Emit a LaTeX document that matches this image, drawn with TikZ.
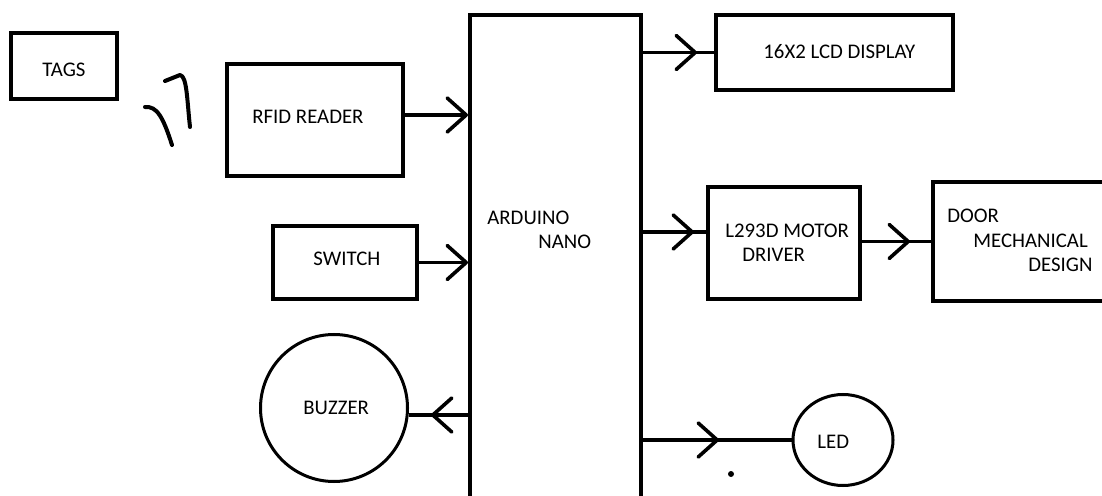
\documentclass[tikz,border=0pt]{standalone}
\usepackage{fontspec}
\setmainfont{Carlito}
\usetikzlibrary{arrows.meta, decorations.markings, fit, shapes.geometric}
\tikzset{
	barb/.tip = {Straight Barb[length=9.5pt, width=17pt, round]},
	block/.style = {draw=black, line width=2pt, inner sep=0pt, rectangle},
	roundunit/.style = {draw=black, line width=1.5pt, inner sep=0pt},
	boxtext/.style = {anchor=west, inner sep=0pt, font=\fontsize{10.4}{12}\selectfont, text=black},
	wire/.style = {draw=black, line width=1.8pt},
	feed/.style = {postaction={decorate}, decoration={markings, mark=at position #1 with {\arrow{barb}}}},
	scrawl/.style = {draw=black, line width=2pt, line cap=round, line join=round},
}

\begin{document}
\begin{tikzpicture}[x=0.5pt, y=-0.5pt]
	\useasboundingbox (0,0) rectangle (1102,496);
	\clip (0,0) rectangle (1102,496);

	% blocks
	\node[block, fit={(11,33) (117,99)}] (tags) {};
	\node[block, fit={(227,64) (403,176)}] (rfid) {};
	\node[block, fit={(273,226) (417,299)}] (switch) {};
	\node[block, fit={(470,15) (641,530)}] (nano) {};
	\node[block, fit={(716,15) (953,90)}] (lcd) {};
	\node[block, fit={(708,187) (860,299)}] (driver) {};
	\node[block, fit={(933,182) (1112,301)}] (door) {};
	\node[roundunit, circle, minimum size=73.5pt] (buzzer) at (334,408) {};
	\node[roundunit, ellipse, minimum width=50pt, minimum height=45.5pt] (led) at (843,440) {};

	% texts
	\node[boxtext] (tagsT) at (42,70) {TAGS};
	\node[boxtext] (rfidT) at (252,117) {RFID READER};
	\node[boxtext] (switchT) at (313,259) {SWITCH};
	\node[boxtext] (nanoA) at (487,218) {ARDUINO};
	\node[boxtext] (nanoB) at (538,242) {NANO};
	\node[boxtext] (lcdT) at (763,52) {16X2 LCD DISPLAY};
	\node[boxtext] (driverA) at (725,231) {L293D MOTOR};
	\node[boxtext] (driverB) at (742,255) {DRIVER};
	\node[boxtext] (doorA) at (947,216) {DOOR};
	\node[boxtext] (doorB) at (973,241) {MECHANICAL};
	\node[boxtext] (doorC) at (1028,265) {DESIGN};
	\node[boxtext] (buzzerT) at (303,408) {BUZZER};
	\node[boxtext] (ledT) at (817,442) {LED};

	% connectors
	\coordinate (rfidout) at ([yshift=2.5pt]rfid.east);
	\coordinate (drvin) at ([yshift=5.5pt]driver.west);
	\coordinate (buzin) at ([yshift=-3.5pt]buzzer.east);
	\draw[wire, -barb] (rfidout) -- (rfidout -| nano.west);
	\draw[wire, -barb] (switch) -- (switch -| nano.west);
	\draw[wire, feed=27pt] (lcd -| nano.east) -- (lcd);
	\draw[wire, feed=25.5pt] (drvin -| nano.east) -- (drvin);
	\draw[wire, feed=24pt] (driver.east |- door) -- (door);
	\draw[wire, feed=18.5pt] (buzin -| nano.west) -- (buzin);
	\draw[wire, feed=38pt] (led -| nano.east) -- (led);

	% radio waves and stray dot
	\draw[scrawl] (145,107) .. controls (157,106) and (163,117) .. (172,145);
	\draw[scrawl] (165,81) -- (180,75) .. controls (187,76) and (187,100) .. (190,127);
	\fill (731,474) circle (1.5pt);
\end{tikzpicture}
\end{document}
